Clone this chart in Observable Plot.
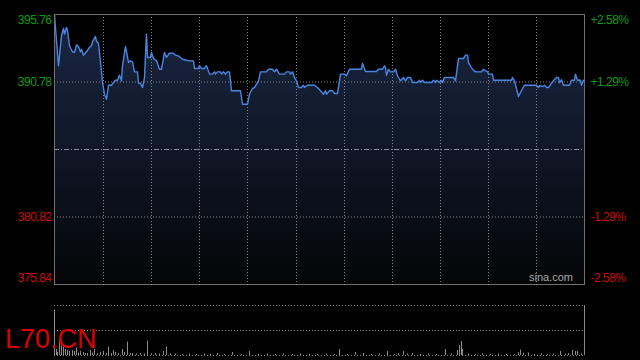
<!DOCTYPE html>
<html>
<head>
<meta charset="utf-8">
<script src="https://cdn.jsdelivr.net/npm/d3@7"></script>
<script src="https://cdn.jsdelivr.net/npm/@observablehq/plot@0.6"></script>
<style>
  html, body { margin: 0; padding: 0; background: #000; }
  #wrap { position: relative; width: 640px; height: 360px; background: #000; overflow: hidden; font-family: "Liberation Sans", Arial, sans-serif; }
  #main { position: absolute; left: 0; top: 0; }
  #vol { position: absolute; left: 0; top: 290px; }
  #sym { position: absolute; left: 5px; top: 326px; font-size: 27px; line-height: 27px; color: #dc0000; white-space: nowrap; }
  #src { position: absolute; right: 67px; top: 272px; font-size: 11px; line-height: 11px; color: #a8a8a8; white-space: nowrap; }
</style>
</head>
<body>
<div id="wrap">
  <div id="main"></div>
  <div id="vol"></div>
  <div id="src">sina.com</div>
  <div id="sym">L70.CN</div>
</div>
<script>
// ---- data (minute index from open, price) ----
const times = [0,4,7,9,10,12,13,15,18,20,22,24,26,27,29,32,35,37,38,41,42,44,46,48,50,52,54,57,59,61,63,65,67,68,71,74,76,78,80,83,84,86,88,90,92,93,96,97,99,102,105,107,110,112,115,119,121,124,128,135,139,140,144,145,147,150,152,155,158,160,161,163,166,167,169,171,173,175,177,186,188,193,195,198,200,204,206,212,214,218,220,222,225,230,232,235,236,238,240,242,244,247,249,250,253,260,264,267,269,271,272,275,278,280,283,286,290,292,295,307,308,311,322,324,328,330,331,332,334,336,339,341,343,346,347,349,351,353,356,358,363,365,366,368,370,377,379,381,382,385,387,388,390,399,401,404,409,411,413,414,415,418,419,421,427,429,430,433,434,438,439,457,458,460,464,466,470,482,484,486,488,490,492,494,497,499,502,504,505,507,509,515,517,520,521,523,526,527,529,530];
const prices = [395.70,391.98,394.19,394.73,394.31,394.80,394.56,393.45,393.01,392.96,393.52,393.38,393.01,393.20,392.76,393.01,393.33,393.45,393.75,394.14,393.75,393.64,392.22,390.74,389.88,389.51,390.54,390.54,390.74,390.91,390.91,391.28,390.87,391.98,393.40,392.22,392.34,392.27,391.53,391.53,390.69,390.69,390.37,391.11,394.31,392.59,392.59,392.96,392.51,392.34,391.72,391.72,392.96,392.59,392.90,392.90,392.76,392.70,392.46,392.34,392.34,391.78,391.78,391.98,391.78,391.78,391.98,391.36,391.36,391.53,391.36,391.53,391.53,391.36,391.53,391.36,391.53,391.53,390.13,390.13,389.14,389.14,389.88,390.30,390.37,390.87,391.53,391.53,391.72,391.72,391.53,391.72,391.36,391.36,391.53,391.53,391.36,391.53,391.11,390.87,390.37,390.37,390.54,390.37,390.54,390.54,390.30,390.06,389.88,390.13,389.88,390.13,390.13,389.93,389.93,391.36,391.36,391.24,391.72,391.72,392.17,391.56,391.56,391.72,391.72,391.98,391.85,391.28,391.72,391.53,391.53,391.72,391.24,390.87,390.94,391.11,390.87,391.11,391.11,390.74,390.74,390.91,390.74,390.91,390.74,390.74,390.91,390.74,390.91,390.74,390.91,390.74,391.11,391.11,390.87,392.51,392.51,392.76,392.76,392.17,392.09,391.72,391.65,391.53,391.53,391.72,391.65,391.53,391.36,391.36,390.91,390.91,391.11,390.87,389.71,390.01,390.54,390.54,390.37,390.54,390.43,390.54,390.37,390.37,390.69,390.87,391.11,391.11,390.74,390.94,390.54,390.54,390.91,390.91,391.36,390.91,390.91,390.54,390.91,390.87];

const volTimes = [0,2,3,5,7,9,11,13,15,18,20,22,24,26,29,31,33,36,38,40,43,46,49,52,54,57,59,61,64,68,70,73,76,78,82,86,90,93,97,101,105,109,112,116,121,128,135,142,150,156,163,170,178,187,195,204,213,221,229,238,246,255,263,272,280,285,293,301,309,317,325,333,340,344,349,353,358,366,374,382,391,397,403,405,407,408,414,421,428,436,444,452,460,464,466,469,474,480,487,493,499,506,511,514,518,521,523,527];
const volumes = [91,12,6,30,22,16,12,10,8,10,8,15,5,8,6,4,4,10,5,12,4,6,8,4,17,4,10,6,4,12,6,27,4,4,3,4,3,29,3,4,3,8,17,3,3,2,3,2,3,2,4,2,6,2,8,2,3,2,3,2,3,2,2,3,2,12,2,6,4,2,3,8,2,4,8,3,4,2,3,2,12,3,10,20,28,12,3,2,3,2,3,2,2,6,11,5,5,2,3,2,3,8,3,4,10,8,8,3];

const prevClose = 385.80;
const leftTicks = [395.76, 390.78, 380.82, 375.84];
const rightTicks = ["+2.58%", "+1.29%", "-1.29%", "-2.58%"];
const gridX = [49, 97, 145, 193, 242, 290, 338, 386, 434, 482];
const gridY = [390.78, 380.82];
const volGrid = [0, 50, 100];

const data = times.map((t, i) => ({t, p: prices[i]}));
const vol = volTimes.map((t, i) => ({t, v: volumes[i]}));
const yMin = 375.84, yMax = 395.76, xMax = 530;

const green = "#109c10", red = "#cc0c0c";
const font = "'Liberation Sans', Arial, sans-serif";

function gradientDefs() {
  const ns = "http://www.w3.org/2000/svg";
  const defs = document.createElementNS(ns, "defs");
  const lg = document.createElementNS(ns, "linearGradient");
  lg.setAttribute("id", "areaGrad");
  lg.setAttribute("gradientUnits", "userSpaceOnUse");
  lg.setAttribute("x1", "0"); lg.setAttribute("x2", "0");
  lg.setAttribute("y1", "14"); lg.setAttribute("y2", "284");
  [["0", "#1a2744"], ["0.5", "#0f1727"], ["1", "#040506"]].forEach(([o, c]) => {
    const s = document.createElementNS(ns, "stop");
    s.setAttribute("offset", o); s.setAttribute("stop-color", c);
    lg.appendChild(s);
  });
  defs.appendChild(lg);
  return defs;
}

const labelMarks = [];
const dys = [6, 0, 0, -6];
leftTicks.forEach((v, i) => {
  const col = v > prevClose ? green : red;
  labelMarks.push(Plot.text([v], {y: d => d, text: d => d.toFixed(2), frameAnchor: "left", textAnchor: "end", dx: -3, dy: dys[i], fill: col, fontSize: 12}));
  labelMarks.push(Plot.text([v], {y: d => d, text: () => rightTicks[i], frameAnchor: "right", textAnchor: "start", dx: 6, dy: dys[i], fill: col, fontSize: 12}));
});

const main = Plot.plot({
  width: 640, height: 290,
  marginTop: 14, marginBottom: 6, marginLeft: 54, marginRight: 56,
  x: {domain: [0, xMax], axis: null},
  y: {domain: [yMin, yMax], axis: null},
  style: {background: "transparent", fontFamily: font, letterSpacing: "-0.5px"},
  marks: [
    gradientDefs,
    Plot.areaY(data, {x: "t", y1: () => yMin, y2: "p", fill: "url(#areaGrad)"}),
    Plot.ruleX(gridX, {x: d => d, stroke: "#858585", strokeDasharray: "1,2"}),
    Plot.ruleY(gridY, {y: d => d, stroke: "#858585", strokeDasharray: "1,2"}),
    Plot.ruleY([prevClose], {y: d => d, stroke: "#8a9099", strokeDasharray: "5,2,1,2"}),
    Plot.lineY(data, {x: "t", y: "p", stroke: "#4a86e0", strokeWidth: 1.4}),
    Plot.frame({stroke: "#707070"}),
    ...labelMarks
  ]
});
document.getElementById("main").appendChild(main);

const volPlot = Plot.plot({
  width: 640, height: 70,
  marginTop: 15, marginBottom: 5, marginLeft: 54, marginRight: 56,
  x: {domain: [0, xMax], axis: null},
  y: {domain: [0, 100], axis: null},
  style: {background: "transparent"},
  marks: [
    Plot.ruleY(volGrid, {y: d => d, stroke: "#858585", strokeDasharray: "1,2"}),
    Plot.ruleX(vol, {x: "t", y1: 0, y2: "v", stroke: "#8c8c8c"}),
    Plot.ruleX([xMax], {x: d => d, y1: 0, y2: 100, stroke: "#8a8a8a"})
  ]
});
document.getElementById("vol").appendChild(volPlot);
</script>
</body>
</html>
